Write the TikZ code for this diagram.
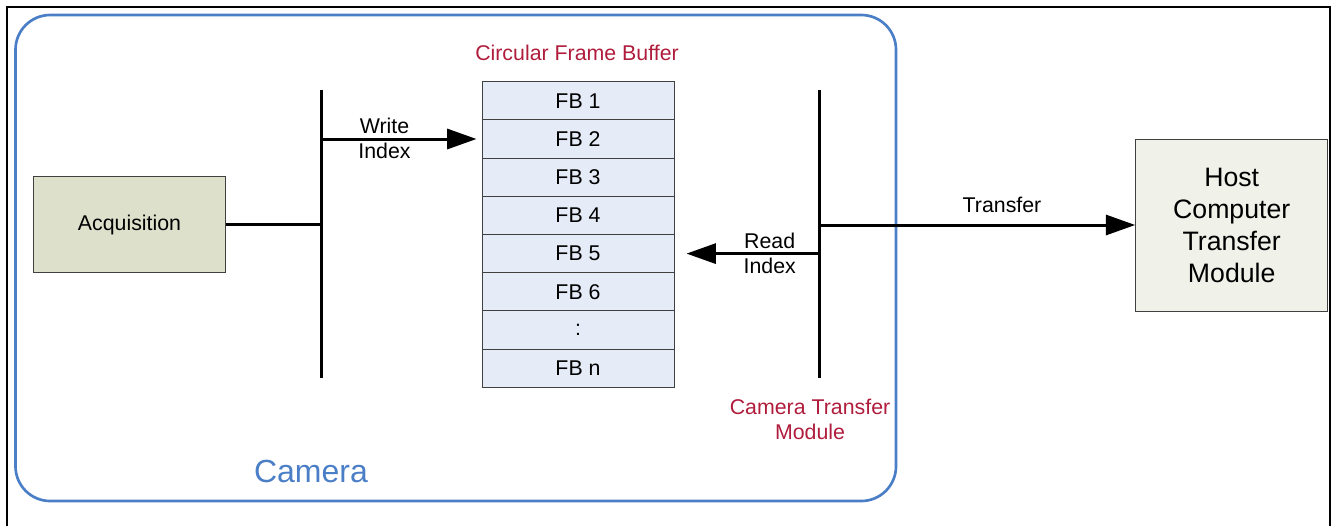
\documentclass[tikz,border=0pt]{standalone}
\usepackage{fontspec}
\setmainfont{Liberation Sans}
\usetikzlibrary{arrows.meta}
\definecolor{camblue}{HTML}{4A7EC6}
\definecolor{lblred}{HTML}{B01C3C}
\definecolor{acqfill}{HTML}{DDE0CB}
\definecolor{hostfill}{HTML}{F0F1E9}
\definecolor{fbfill}{HTML}{E5ECF7}
\definecolor{boxline}{HTML}{404040}
\begin{document}
\begin{tikzpicture}[x=0.75pt,y=-0.75pt,
  box/.style={draw=boxline, line width=0.75pt, inner sep=0pt, minimum width=144pt},
  fbrow/.style={box, fill=fbfill, minimum height=28.65pt, font=\fontsize{16}{19}\selectfont},
  bus/.style={line width=2.25pt},
  conn/.style={line width=2.25pt},
  bigarrow/.style={conn, -{Triangle[length=22pt,width=15pt]}},
  lbl/.style={font=\fontsize{16}{18.75}\selectfont, align=center, inner sep=0pt},
  redlbl/.style={lbl, text=lblred}]
\useasboundingbox (0,0) rectangle (1333,525);
\draw[line width=1.5pt] (6.5,526) -- (6.5,6.5) -- (1330,6.5) -- (1330,526);
\draw[camblue, line width=2pt, rounded corners=26pt] (15.5,15) rectangle (896,501);

% frame buffer
\foreach \i/\t in {1/FB 1,2/FB 2,3/FB 3,4/FB 4,5/FB 5,6/FB 6,7/:,8/FB n}
  \node[fbrow] (fb\i) at (578,{81.7+(\i-0.5)*38.2}) {\t};

% boxes
\node[box, fill=acqfill, minimum height=72pt, font=\fontsize{16}{19}\selectfont] (acq) at (129.5,224.7) {Acquisition};
\node[box, fill=hostfill, minimum height=129pt, align=center, font=\fontsize{20}{24}\selectfont] (host) at (1231.7,225) {Host\\Computer\\Transfer\\Module};

% buses
\coordinate (lbtop) at (321,90);
\coordinate (lbbot) at (321,378);
\coordinate (rbtop) at (819.3,90);
\coordinate (rbbot) at (819.3,378);
\draw[bus] (lbtop) -- (lbbot);
\draw[bus] (rbtop) -- (rbbot);

% connectors
\draw[conn] (acq.east) -- (acq.east -| lbtop);
\draw[bigarrow, shorten >=3.75pt] (fb2.west -| lbtop) -- (fb2.west);
\draw[bigarrow, shorten >=9pt] (fb5.east -| rbtop) -- (fb5.east);
\draw[bigarrow] (host.west -| rbtop) -- (host.west);

% labels
\node[lbl] (wlbl) at (384.5,138.5) {Write\\Index};
\node[lbl] (rlbl) at (769.7,253) {Read\\Index};
\node[lbl] (tlbl) at (1002,205) {Transfer};
\node[redlbl] (cfb) at (577,53) {Circular Frame Buffer};
\node[redlbl] (ctm) at (810,419) {Camera Transfer\\Module};
\node[lbl, text=camblue, font=\fontsize{24}{28}\selectfont] (cam) at (311,471.7) {Camera};
\end{tikzpicture}
\end{document}
